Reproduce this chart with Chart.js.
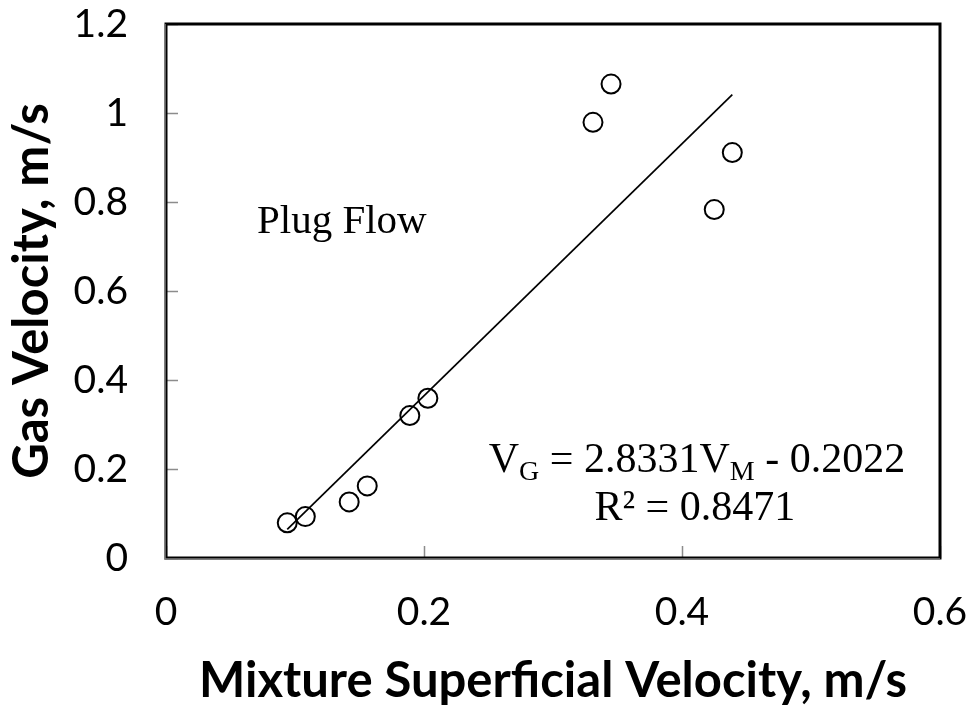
<!DOCTYPE html>
<html>
<head>
<meta charset="utf-8">
<script src="https://cdn.jsdelivr.net/npm/chart.js@4/dist/chart.umd.min.js"></script>
<style>
html,body{margin:0;padding:0;background:#fff;}
#wrap{width:973px;height:711px;}
</style>
</head>
<body>
<div id="wrap"><canvas id="c" width="973" height="711"></canvas></div>
<script>
// Data
const mixtureVelocity = [0.094, 0.108, 0.142, 0.156, 0.189, 0.203, 0.331, 0.345, 0.425, 0.439];
const gasVelocity     = [0.079, 0.093, 0.126, 0.162, 0.320, 0.359, 0.979, 1.065, 0.783, 0.911];
const fitSlope = 2.8331;
const fitIntercept = -0.2022;
const xTicks = [0, 0.2, 0.4, 0.6];
const yTicks = [0, 0.2, 0.4, 0.6, 0.8, 1, 1.2];
const xTitle = 'Mixture Superficial Velocity, m/s';
const yTitle = 'Gas Velocity, m/s';
const regimeLabel = 'Plug Flow';
const eqLabel = ['V', 'G', ' = 2.8331V', 'M', ' - 0.2022'];
const r2Label = 'R\u00B2 = 0.8471';

const xMin = Math.min(...mixtureVelocity), xMax = Math.max(...mixtureVelocity);
const scatterData = mixtureVelocity.map((x, i) => ({x, y: gasVelocity[i]}));
const fitData = [xMin, xMax].map(x => ({x, y: fitSlope * x + fitIntercept}));

const frameAndText = {
  id: 'frameAndText',
  beforeDatasetsDraw(chart) {
    const ctx = chart.ctx, a = chart.chartArea;
    const xs = chart.scales.x, ys = chart.scales.y;
    ctx.save();
    ctx.strokeStyle = '#8c8c8c';
    ctx.lineWidth = 1.5;
    ctx.beginPath();
    xTicks.forEach(v => { const px = Math.round(xs.getPixelForValue(v)) + 0.5; ctx.moveTo(px, a.bottom); ctx.lineTo(px, a.bottom - 12); });
    yTicks.forEach(v => { const py = Math.round(ys.getPixelForValue(v)) + 0.5; ctx.moveTo(a.left, py); ctx.lineTo(a.left + 12, py); });
    ctx.stroke();
    ctx.restore();
  },
  afterDatasetsDraw(chart) {
    const ctx = chart.ctx, a = chart.chartArea;
    const xs = chart.scales.x, ys = chart.scales.y;
    ctx.save();
    ctx.strokeStyle = '#000';
    ctx.lineWidth = 3;
    ctx.strokeRect(a.left, a.top, a.right - a.left, a.bottom - a.top);
    ctx.strokeStyle = '#7f7f7f';
    ctx.lineWidth = 1.5;
    ctx.beginPath();
    ctx.moveTo(a.left - 1, a.top); ctx.lineTo(a.left - 1, a.bottom + 1); ctx.lineTo(a.right, a.bottom + 1);
    ctx.stroke();
    ctx.fillStyle = '#000';
    ctx.textBaseline = 'alphabetic';
    ctx.font = '41px "Liberation Serif", "Times New Roman", serif';
    ctx.textAlign = 'left';
    ctx.fillText(regimeLabel, xs.getPixelForValue(0.0705), ys.getPixelForValue(0.730));
    const big = '42px "Liberation Serif", "Times New Roman", serif';
    const small = '28px "Liberation Serif", "Times New Roman", serif';
    const parts = eqLabel.map((t, i) => ({t, sub: i % 2 === 1}));
    let total = 0;
    parts.forEach(p => { ctx.font = p.sub ? small : big; p.w = ctx.measureText(p.t).width; total += p.w; });
    const cx = xs.getPixelForValue(0.4116);
    const by = ys.getPixelForValue(0.193);
    let x = cx - total / 2;
    parts.forEach(p => { ctx.font = p.sub ? small : big; ctx.fillText(p.t, x, p.sub ? by + 8 : by); x += p.w; });
    ctx.font = big;
    ctx.textAlign = 'center';
    ctx.fillText(r2Label, xs.getPixelForValue(0.41), ys.getPixelForValue(0.0854));
    ctx.restore();
  }
};

new Chart(document.getElementById('c'), {
  type: 'scatter',
  data: {
    datasets: [
      {
        type: 'scatter',
        data: scatterData,
        pointStyle: 'circle',
        pointRadius: 9.5,
        pointHoverRadius: 9.5,
        borderColor: '#000',
        backgroundColor: 'rgba(0,0,0,0)',
        borderWidth: 2,
        order: 1
      },
      {
        type: 'line',
        data: fitData,
        borderColor: '#000',
        borderWidth: 1.7,
        pointRadius: 0,
        fill: false,
        tension: 0,
        order: 2
      }
    ]
  },
  options: {
    responsive: false,
    animation: false,
    devicePixelRatio: 1,
    layout: { padding: { top: 24, right: 33, bottom: 0, left: 0 } },
    plugins: { legend: { display: false }, tooltip: { enabled: false } },
    scales: {
      x: {
        type: 'linear', min: 0, max: 0.6,
        afterBuildTicks: s => { s.ticks = xTicks.map(v => ({value: v})); },
        afterFit: s => { s.height = 153; s.paddingLeft = 0; s.paddingRight = 0; },
        grid: { display: false, drawTicks: false },
        border: { display: false },
        ticks: { padding: 31, color: '#000', font: { family: 'Lato', size: 39 }, callback: v => String(v) },
        title: { display: true, text: xTitle, color: '#000', font: { family: 'Lato', size: 49, weight: 'bold' }, padding: { top: 0, bottom: 0 } }
      },
      y: {
        type: 'linear', min: 0, max: 1.2,
        afterBuildTicks: s => { s.ticks = yTicks.map(v => ({value: v})); },
        afterFit: s => { s.width = 166; s.paddingTop = 0; s.paddingBottom = 0; },
        grid: { display: false, drawTicks: false },
        border: { display: false },
        ticks: { padding: 38, color: '#000', font: { family: 'Lato', size: 39 }, callback: v => String(v) },
        title: { display: true, text: yTitle, color: '#000', font: { family: 'Lato', size: 49, weight: 'bold' }, padding: { top: 3, bottom: 0 } }
      }
    }
  },
  plugins: [frameAndText]
});
</script>
</body>
</html>
